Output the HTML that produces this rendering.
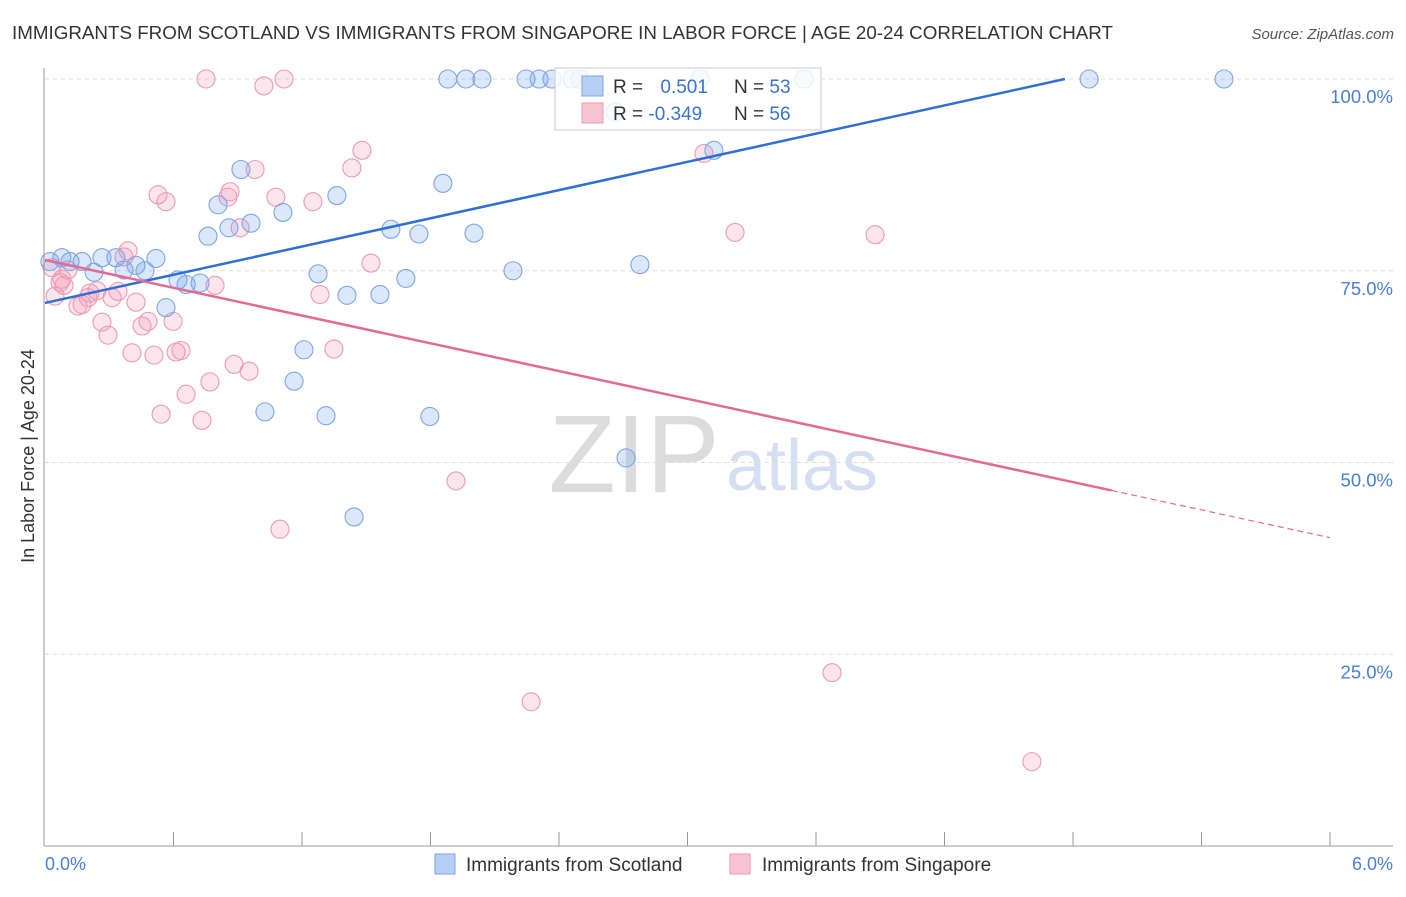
<!DOCTYPE html>
<html><head><meta charset="utf-8"><style>
body{margin:0;background:#fff;font-family:"Liberation Sans",sans-serif;}
svg text{font-family:"Liberation Sans",sans-serif;}
</style></head><body>
<svg id="c" width="1406" height="892">
<text x="12" y="39" font-size="18.5" fill="#333" textLength="1101" lengthAdjust="spacingAndGlyphs">IMMIGRANTS FROM SCOTLAND VS IMMIGRANTS FROM SINGAPORE IN LABOR FORCE | AGE 20-24 CORRELATION CHART</text>
<text x="1394" y="39" font-size="15" fill="#555" font-style="italic" text-anchor="end">Source: ZipAtlas.com</text>
<text x="634" y="492" font-size="110" fill="#dcdcdc" font-family="Liberation Serif" text-anchor="middle">ZIP</text>
<text x="802" y="490" font-size="72" fill="#d4e0f2" text-anchor="middle">atlas</text>
<g id="grid"></g><g id="pts"></g><g id="lines"></g>
<line x1="44" y1="68" x2="44" y2="846" stroke="#999"/>
<line x1="44" y1="846" x2="1393" y2="846" stroke="#999"/>
<text x="34" y="456" font-size="18" fill="#333" text-anchor="middle" transform="rotate(-90 34 456)">In Labor Force | Age 20-24</text>
<text x="45" y="870" font-size="18" fill="#4a7fd6">0.0%</text>
<text x="1393" y="870" font-size="18" fill="#4a7fd6" text-anchor="end">6.0%</text>
<g>
<rect x="555" y="68" width="266" height="62" fill="rgba(255,255,255,0.82)" stroke="#ccc"/>
<rect x="582" y="76" width="21" height="20" fill="#b6cff2" stroke="#7ea6e2"/>
<rect x="582" y="103" width="21" height="20" fill="#f8c4d4" stroke="#eb9ab4"/>
<text x="613" y="93" font-size="19" fill="#333">R = <tspan fill="#3a73d0" dx="12">0.501</tspan></text>
<text x="734" y="93" font-size="19" fill="#333">N = <tspan fill="#3a73d0">53</tspan></text>
<text x="613" y="120" font-size="19" fill="#333">R = <tspan fill="#3a73d0">-0.349</tspan></text>
<text x="734" y="120" font-size="19" fill="#333">N = <tspan fill="#3a73d0">56</tspan></text>
</g>
<g>
<rect x="435" y="854" width="20" height="20" fill="#b6cff2" stroke="#7ea6e2"/>
<text x="466" y="871" font-size="19" fill="#333">Immigrants from Scotland</text>
<rect x="730" y="854" width="20" height="20" fill="#f8c4d4" stroke="#eb9ab4"/>
<text x="762" y="871" font-size="19" fill="#333">Immigrants from Singapore</text>
</g>
</svg>
<script>
const yTicks=[25,50,75,100];
const yTickLabels=["25.0%","50.0%","75.0%","100.0%"];
const xTicks=[0.6,1.2,1.8,2.4,3.0,3.6,4.2,4.8,5.4,6.0];
const scotX=[0.023,0.079,0.117,0.173,0.229,0.266,0.331,0.369,0.425,0.467,0.518,0.565,0.621,0.659,0.724,0.761,0.808,0.859,0.915,0.962,1.027,1.111,1.163,1.209,1.275,1.312,1.363,1.410,1.443,1.564,1.615,1.685,1.746,1.797,1.858,1.881,1.965,2.003,2.040,2.185,2.246,2.307,2.367,2.461,2.498,2.713,2.778,3.058,3.123,3.544,4.875,5.505,2.662];
const scotY=[76.2,76.7,76.2,76.2,74.8,76.7,76.7,75.1,75.7,75.0,76.6,70.2,73.8,73.2,73.4,79.5,83.6,80.6,88.2,81.2,56.6,82.6,60.6,64.7,74.6,56.1,84.8,71.8,42.9,71.9,80.4,74.0,79.8,56.0,86.4,100,100,79.9,100,75.0,100,100,100,100,100,50.6,75.8,100,90.7,100,100,100,95.7];
const singX=[0.033,0.047,0.070,0.089,0.107,0.154,0.173,0.201,0.243,0.266,0.294,0.313,0.341,0.369,0.388,0.406,0.425,0.453,0.481,0.509,0.528,0.542,0.565,0.598,0.612,0.635,0.659,0.733,0.770,0.752,0.854,0.864,0.883,0.911,0.953,0.981,1.022,1.078,1.097,1.116,1.251,1.284,1.349,1.433,1.480,1.522,1.919,2.270,3.077,3.222,3.675,3.876,4.608,0.079,0.210,0.794];
const singY=[75.4,71.7,73.5,73.1,75.1,70.4,70.6,71.5,72.4,68.3,66.6,71.5,72.3,76.8,77.6,64.3,70.9,67.8,68.4,64.0,84.9,56.3,84.0,68.4,64.4,64.6,58.9,55.5,60.5,100,84.6,85.3,62.8,80.6,61.9,88.2,99.1,84.6,41.3,100,84.0,71.9,64.8,88.4,90.7,76.0,47.6,18.8,90.3,80.0,22.6,79.7,11.0,73.9,72.1,73.1];
const trendX=[0,4.762,6];
const scotTrend=[70.8,100];
const singTrend=[76.4,46.6,40.2];
const X=v=>45+v/6*1285, Y=v=>846-v/100*767;
const NS="http://www.w3.org/2000/svg";
function mk(t,a,p){const e=document.createElementNS(NS,t);for(const k in a)e.setAttribute(k,a[k]);p.appendChild(e);return e;}
const grid=document.getElementById('grid');
yTicks.forEach((t,i)=>{
 const l=mk('line',{x1:45,x2:1393,y1:Y(t),y2:Y(t),stroke:'#ddd','stroke-dasharray':'4,4'},grid);
 
 
 const tx=mk('text',{x:1393,y:Y(t)+24,'font-size':18.5,fill:'#4a7fd6','text-anchor':'end'},grid);
 tx.textContent=yTickLabels[i];
 
 
});
xTicks.forEach(t=>{
 const l=mk('line',{x1:X(t),x2:X(t),y1:832,y2:846,stroke:'#999'},grid);
 
 
});
const pts=document.getElementById('pts');
singX.forEach((v,i)=>{
 const c=mk('circle',{cx:X(v),cy:Y(singY[i]),r:9,fill:'rgba(245,150,180,0.25)',stroke:'#eb9ab4','stroke-width':1.1},pts);
 
 
});
scotX.forEach((v,i)=>{
 const c=mk('circle',{cx:X(v),cy:Y(scotY[i]),r:9,fill:'rgba(110,160,235,0.25)',stroke:'#7ea6e2','stroke-width':1.1},pts);
 
 
});
const lines=document.getElementById('lines');
const b=mk('line',{x1:X(trendX[0]),y1:Y(scotTrend[0]),x2:X(trendX[1]),y2:Y(scotTrend[1]),stroke:'#2f6fd6','stroke-width':2.5},lines);


const p=mk('line',{x1:X(trendX[0]),y1:Y(singTrend[0]),x2:X(4.98),y2:Y(singTrend[0]+(singTrend[2]-singTrend[0])*4.98/6),stroke:'#e46a96','stroke-width':2.5},lines);


const pd=mk('line',{x1:X(4.98),y1:Y(singTrend[0]+(singTrend[2]-singTrend[0])*4.98/6),x2:X(trendX[2]),y2:Y(singTrend[2]),stroke:'#e46a96','stroke-width':1.2,'stroke-dasharray':'6,4'},lines);


</script>
</body></html>
